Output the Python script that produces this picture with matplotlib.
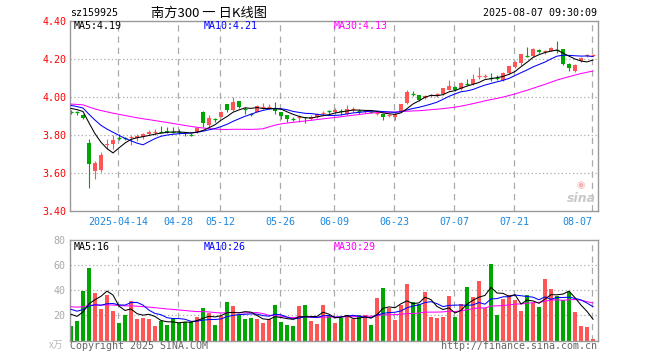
import numpy as np
import pandas as pd
import matplotlib
matplotlib.use("Agg")
import matplotlib.pyplot as plt

# trading days shown (2025)
dates = ["04-01", "04-02", "04-03", "04-07", "04-08", "04-09", "04-10", "04-11",
         "04-14", "04-15", "04-16", "04-17", "04-18", "04-21", "04-22", "04-23",
         "04-24", "04-25", "04-28", "04-29", "04-30",
         "05-06", "05-07", "05-08", "05-09", "05-12", "05-13", "05-14", "05-15",
         "05-16", "05-19", "05-20", "05-21", "05-22", "05-23", "05-26", "05-27",
         "05-28", "05-29", "05-30",
         "06-03", "06-04", "06-05", "06-06", "06-09", "06-10", "06-11", "06-12",
         "06-13", "06-16", "06-17", "06-18", "06-19", "06-20", "06-23", "06-24",
         "06-25", "06-26", "06-27", "06-30",
         "07-01", "07-02", "07-03", "07-04", "07-07", "07-08", "07-09", "07-10",
         "07-11", "07-14", "07-15", "07-16", "07-17", "07-18", "07-21", "07-22",
         "07-23", "07-24", "07-25", "07-28", "07-29", "07-30", "07-31",
         "08-01", "08-04", "08-05", "08-06", "08-07"]

open_ = [3.922, 3.922, 3.905, 3.760, 3.612, 3.615, 3.745, 3.752, 3.788, 3.786,
         3.785, 3.786, 3.790, 3.806, 3.812, 3.824, 3.822, 3.820, 3.817, 3.812,
         3.806, 3.815, 3.920, 3.853, 3.885, 3.897, 3.962, 3.930, 3.978, 3.940,
         3.912, 3.923, 3.946, 3.946, 3.940, 3.923, 3.904, 3.886, 3.893, 3.896,
         3.884, 3.895, 3.912, 3.927, 3.923, 3.927, 3.909, 3.935, 3.927, 3.921,
         3.926, 3.912, 3.912, 3.900, 3.896, 3.923, 3.967, 4.022, 4.010, 3.993,
         4.008, 4.012, 4.014, 4.037, 4.054, 4.040, 4.074, 4.067, 4.105, 4.110,
         4.102, 4.102, 4.090, 4.125, 4.160, 4.177, 4.219, 4.217, 4.250, 4.240,
         4.242, 4.249, 4.253, 4.172, 4.137, 4.190, 4.218, 4.219]
high = [3.930, 3.928, 3.908, 3.780, 3.665, 3.710, 3.780, 3.800, 3.805, 3.790,
        3.800, 3.805, 3.810, 3.825, 3.830, 3.845, 3.840, 3.840, 3.830, 3.815,
        3.812, 3.840, 3.925, 3.905, 3.888, 3.926, 3.965, 4.000, 3.980, 3.945,
        3.915, 3.960, 3.967, 3.962, 3.975, 3.923, 3.904, 3.893, 3.905, 3.896,
        3.905, 3.916, 3.926, 3.934, 3.940, 3.937, 3.958, 3.945, 3.935, 3.930,
        3.930, 3.925, 3.912, 3.910, 3.920, 3.965, 4.037, 4.030, 4.012, 4.010,
        4.015, 4.022, 4.050, 4.089, 4.059, 4.078, 4.095, 4.120, 4.160, 4.120,
        4.125, 4.115, 4.130, 4.165, 4.190, 4.226, 4.265, 4.257, 4.253, 4.250,
        4.265, 4.295, 4.255, 4.180, 4.172, 4.212, 4.225, 4.225]
low = [3.910, 3.905, 3.885, 3.523, 3.570, 3.605, 3.728, 3.725, 3.772, 3.775,
       3.746, 3.770, 3.780, 3.800, 3.800, 3.810, 3.810, 3.810, 3.805, 3.797,
       3.795, 3.810, 3.840, 3.840, 3.870, 3.893, 3.922, 3.925, 3.940, 3.909,
       3.900, 3.920, 3.935, 3.935, 3.909, 3.883, 3.870, 3.872, 3.870, 3.862,
       3.877, 3.890, 3.905, 3.910, 3.910, 3.905, 3.905, 3.920, 3.910, 3.915,
       3.915, 3.905, 3.880, 3.897, 3.879, 3.920, 3.962, 4.003, 3.980, 3.990,
       4.000, 3.998, 4.010, 4.035, 4.032, 4.035, 4.065, 4.065, 4.095, 4.100,
       4.085, 4.090, 4.085, 4.120, 4.155, 4.170, 4.212, 4.210, 4.230, 4.225,
       4.240, 4.230, 4.168, 4.137, 4.133, 4.185, 4.210, 4.215]
close = [3.919, 3.919, 3.890, 3.650, 3.655, 3.695, 3.752, 3.776, 3.784, 3.782,
         3.790, 3.796, 3.805, 3.815, 3.816, 3.818, 3.815, 3.817, 3.814, 3.805,
         3.802, 3.837, 3.862, 3.887, 3.882, 3.922, 3.933, 3.975, 3.948, 3.936,
         3.909, 3.954, 3.950, 3.950, 3.926, 3.902, 3.883, 3.883, 3.897, 3.888,
         3.896, 3.912, 3.915, 3.924, 3.932, 3.924, 3.937, 3.938, 3.924, 3.924,
         3.922, 3.915, 3.895, 3.903, 3.909, 3.962, 4.025, 4.018, 3.985, 4.005,
         4.011, 4.015, 4.046, 4.059, 4.037, 4.075, 4.070, 4.093, 4.108, 4.113,
         4.098, 4.098, 4.125, 4.163, 4.186, 4.225, 4.215, 4.253, 4.235, 4.243,
         4.260, 4.246, 4.172, 4.154, 4.168, 4.207, 4.222, 4.222]
# volume, 10k lots
volume = [11.5, 15.5, 39.7, 57.7, 37.8, 25.3, 36.2, 23.8, 13.9, 20.3,
          31.4, 17.4, 17.9, 17.4, 11.5, 15.5, 12.3, 17.1, 13.9, 14.7,
          14.7, 19.0, 25.9, 22.0, 12.3, 19.7, 30.5, 27.5, 20.0, 17.1,
          17.8, 17.1, 14.0, 17.5, 28.3, 14.8, 12.4, 11.5, 27.5, 28.3,
          15.5, 13.1, 28.3, 19.5, 13.9, 17.6, 20.0, 16.9, 20.0, 20.0,
          12.3, 33.8, 41.8, 25.9, 16.6, 28.3, 45.0, 30.9, 29.0, 39.0,
          18.7, 17.9, 18.7, 35.4, 18.7, 29.1, 42.6, 34.6, 47.4, 25.9,
          60.9, 20.3, 33.0, 36.0, 32.2, 23.5, 36.2, 29.6, 26.6, 49.0,
          41.0, 35.7, 32.5, 38.4, 22.7, 11.5, 10.7, 1.2]

# sessions before the window (estimated from where the MA lines start)
pre_close = [3.97, 3.96, 3.98, 3.97, 3.95, 3.96, 3.98, 3.97, 3.96, 3.97,
             3.98, 3.96, 3.95, 3.97, 3.97, 3.96, 3.97, 3.98, 3.96, 3.95,
             3.98, 3.97, 3.98, 3.96, 3.97, 3.95, 3.94, 3.95, 3.94]
pre_vol = [26, 30, 28, 25, 29, 31, 27, 26, 28, 30, 27, 29, 28, 26, 30,
           27, 28, 29, 26, 29, 30, 27.5, 29, 28, 29, 24, 22, 25, 22]

tick_days = ["04-14", "04-28", "05-12", "05-26", "06-09", "06-23", "07-07", "07-21", "08-07"]
price_ticks = [3.40, 3.60, 3.80, 4.00, 4.20, 4.40]
vol_ticks = [20, 40, 60, 80]

RED = "#ff5555"
GREEN = "#00a600"
GRID = "#aaaaaa"
MONO = "DejaVu Sans Mono"
CJK = ["Noto Sans CJK SC", "DejaVu Sans"]
FS = 7.2

W, H = 660, 360


def fx(x):
    return x / W


def fy(y):
    return 1 - y / H


n = len(close)
x = np.arange(n)
o = np.array(open_)
c = np.array(close)
up = c >= o
cols = np.where(up, RED, GREEN)

cs = pd.Series(pre_close + close)
vs = pd.Series(pre_vol + volume)
k = len(pre_close)
ma_price = {m: cs.rolling(m).mean().to_numpy()[k:] for m in (5, 10, 30)}
ma_vol = {m: vs.rolling(m).mean().to_numpy()[k:] for m in (5, 10, 30)}
ma_cols = {5: "black", 10: "#0000ff", 30: "#ff00ff"}

tick_idx = [dates.index(d) for d in tick_days]

fig = plt.figure(figsize=(6.6, 3.6), dpi=100)
ax = fig.add_axes([fx(70), fy(211), fx(527.7), 190 / H])
axv = fig.add_axes([fx(70), fy(340.5), fx(527.7), 100.5 / H])

for a in (ax, axv):
    a.set_xlim(-0.17, 87.78)
    a.set_xticks([])
    for s in a.spines.values():
        s.set_color("#999999")
        s.set_linewidth(1.0)
    for t in tick_idx:
        a.axvline(t - 0.15, color=GRID, lw=0.9, ls=(0, (5, 4)), zorder=1)

# price panel
ax.set_ylim(3.40, 4.40)
for v in price_ticks[1:-1]:
    ax.axhline(v, color=GRID, lw=0.9, ls=(0, (1, 2)), zorder=1)
ax.vlines(x, low, high, colors=cols, lw=0.8, zorder=2)
body = np.abs(c - o)
flat = body < 0.006
ax.bar(x[~flat], body[~flat], bottom=np.minimum(o, c)[~flat], width=0.78,
       color=cols[~flat], linewidth=0, zorder=2)
ax.hlines(c[flat], x[flat] - 0.39, x[flat] + 0.39, colors=cols[flat], lw=0.9, zorder=2)
for m in (30, 10, 5):
    ax.plot(x, ma_price[m], color=ma_cols[m], lw=0.75, zorder=3)
ax.set_yticks(price_ticks)
ax.set_yticklabels([f"{v:.2f}" for v in price_ticks], family=MONO, fontsize=FS, color="#ff0000")
ax.tick_params(axis="y", length=0, pad=2.4)

for t, d in zip(tick_idx, tick_days):
    lab = "2025-" + d if t == tick_idx[0] else d
    ha = "right" if t == tick_idx[-1] else "center"
    ax.text(t - 0.15 + (0.1 if ha == "right" else 0), -0.056, lab, transform=ax.get_xaxis_transform(),
            ha=ha, va="center", family=MONO, fontsize=FS, color="#1b87e0")

# volume panel
axv.set_ylim(0, 80)
for v in vol_ticks[:-1]:
    axv.axhline(v, color=GRID, lw=0.9, ls=(0, (1, 2)), zorder=1)
axv.bar(x, volume, width=0.82, color=cols, linewidth=0, zorder=2)
for m in (30, 10, 5):
    axv.plot(x, ma_vol[m], color=ma_cols[m], lw=0.75, zorder=3)
axv.set_yticks(vol_ticks)
axv.set_yticklabels([str(v) for v in vol_ticks], family=MONO, fontsize=FS, color="#aaaaaa")
axv.tick_params(axis="y", length=0, pad=3.2)

# header and legends
fig.text(fx(70), fy(13), "sz159925", family=MONO, fontsize=FS, va="center", ha="left")
fig.text(fx(209), fy(13), "南方300 一 日K线图", family=CJK, fontsize=9.5, va="center", ha="center")
fig.text(fx(597), fy(13), "2025-08-07 09:30:09", family=MONO, fontsize=FS, va="center", ha="right")

for yy, labels in ((26, ["MA5:4.19", "MA10:4.21", "MA30:4.13"]),
                   (246.5, ["MA5:16", "MA10:26", "MA30:29"])):
    for xx, lab, m in zip((74, 204, 334), labels, (5, 10, 30)):
        fig.text(fx(xx), fy(yy), lab, family=MONO, fontsize=FS, va="center", ha="left", color=ma_cols[m])

fig.text(fx(49), fy(345), "x万", family=CJK, fontsize=7, va="center", ha="left", color="#bbbbbb")
fig.text(fx(70), fy(346), "Copyright 2025 SINA.COM", family=MONO, fontsize=FS, va="center", ha="left", color="#666666")
fig.text(fx(597), fy(346), "http://finance.sina.com.cn", family=MONO, fontsize=FS, va="center", ha="right", color="#666666")

# sina watermark
fig.text(fx(581), fy(185), "◉", family="DejaVu Sans", fontsize=7, va="center", ha="center", color="#f4b4b4")
fig.text(fx(581), fy(199), "sina", family="DejaVu Sans", fontsize=9, weight="bold", style="italic",
         va="center", ha="center", color="#c8c8c8")

fig.savefig("out.png", dpi=100)
